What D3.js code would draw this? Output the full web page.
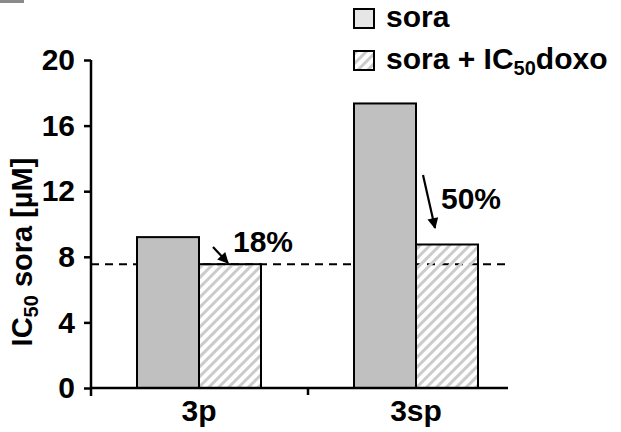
<!DOCTYPE html>
<html>
<head>
<meta charset="utf-8">
<title>IC50 sora</title>
<script src="https://cdn.jsdelivr.net/npm/d3@7"></script>
<style>
body { margin:0; background:#fff; }
text { font-family: "Liberation Sans", Arial, sans-serif; font-weight:bold; }
</style>
</head>
<body>
<svg id="chart" width="621" height="432"></svg>
<script>
var categories = ["3p", "3sp"];
var series = ["sora", "sora + IC50doxo"];
var soraValues = [9.2, 17.35];
var comboValues = [7.55, 8.75];
var yTicks = [0, 4, 8, 12, 16, 20];
var refLevel = 7.55;
var reductions = ["18%", "50%"];

var FS = 30, SUB = 20;
var svg = d3.select("#chart");

// hatch pattern for the combination bars
var defs = svg.append("defs");
defs.append("pattern")
	.attr("id", "hatch")
	.attr("patternUnits", "userSpaceOnUse")
	.attr("width", 7).attr("height", 7)
	.attr("patternTransform", "rotate(45)")
	.append("rect")
	.attr("x", 0).attr("y", 0).attr("width", 3).attr("height", 7)
	.attr("fill", "#cbcbcb");

var x = d3.scaleBand().domain(categories).range([91, 525]).paddingInner(0).paddingOuter(0);
var y = d3.scaleLinear().domain([0, 20]).range([388, 60]);

// stray mark top-left
svg.append("rect").attr("x", 0).attr("y", 0).attr("width", 24).attr("height", 3).attr("fill", "#8a8a8a");

// dashed reference line
svg.append("line")
	.attr("x1", 91).attr("x2", 508)
	.attr("y1", y(refLevel)).attr("y2", y(refLevel))
	.attr("stroke", "#000").attr("stroke-width", 2)
	.attr("stroke-dasharray", "8,6");

var barW = 62;
var groups = svg.selectAll(".grp").data(categories).enter().append("g");

groups.append("rect")
	.attr("x", function(d){ return x(d) + x.bandwidth()/2 - barW - 0.5; })
	.attr("y", function(d, i){ return y(soraValues[i]); })
	.attr("width", barW)
	.attr("height", function(d, i){ return y(0) - y(soraValues[i]); })
	.attr("fill", "#c0c0c0").attr("stroke", "#000").attr("stroke-width", 2);

groups.append("rect")
	.attr("x", function(d){ return x(d) + x.bandwidth()/2 - 0.5; })
	.attr("y", function(d, i){ return y(comboValues[i]); })
	.attr("width", barW)
	.attr("height", function(d, i){ return y(0) - y(comboValues[i]); })
	.attr("fill", "url(#hatch)").attr("stroke", "#000").attr("stroke-width", 2);

// y axis
var yAxis = svg.append("g").attr("transform", "translate(91,0)")
	.call(d3.axisLeft(y).tickValues(yTicks).tickSize(7).tickPadding(9));
yAxis.select(".domain").attr("d", "M0," + y(20) + "V396").attr("stroke-width", 2.5);
yAxis.selectAll(".tick line").attr("stroke-width", 2.5);
yAxis.selectAll(".tick text").attr("font-size", FS).attr("font-family", "Liberation Sans, Arial").attr("font-weight", "bold").attr("fill", "#000");

// x axis
var xAxis = svg.append("g").attr("transform", "translate(0," + y(0) + ")");
xAxis.append("line").attr("x1", 91).attr("x2", 508).attr("y1", 0).attr("y2", 0)
	.attr("stroke", "#000").attr("stroke-width", 2.5);
xAxis.append("line").attr("x1", x(categories[1])).attr("x2", x(categories[1])).attr("y1", 0).attr("y2", 7)
	.attr("stroke", "#000").attr("stroke-width", 2.5);
xAxis.selectAll(".xl").data(categories).enter().append("text")
	.attr("x", function(d){ return x(d) + x.bandwidth()/2 - 0.5; })
	.attr("y", 33)
	.attr("text-anchor", "middle").attr("font-size", FS)
	.text(function(d){ return d; });

// y title
var yt = svg.append("text")
	.attr("transform", "translate(32,252) rotate(-90)")
	.attr("text-anchor", "middle").attr("font-size", 29);
yt.append("tspan").text("IC");
yt.append("tspan").attr("font-size", SUB).attr("dy", 6).text("50");
yt.append("tspan").attr("dy", -6).text(" sora [µM]");

// arrows
defs.append("marker").attr("id", "ah")
	.attr("viewBox", "0 0 10 10").attr("refX", 9).attr("refY", 5)
	.attr("markerWidth", 5.5).attr("markerHeight", 5).attr("orient", "auto")
	.attr("markerUnits", "strokeWidth")
	.append("path").attr("d", "M0,0L10,5L0,10z").attr("fill", "#000");

var arrowData = [
	{ cat: 0, x1: 213, y1: 247, x2: 228, y2: 263, tx: 233, ty: 252 },
	{ cat: 1, x1: 423, y1: 175, x2: 435, y2: 228, tx: 441, ty: 209 }
];
svg.selectAll(".arr").data(arrowData).enter().append("line")
	.attr("x1", function(d){ return d.x1; }).attr("y1", function(d){ return d.y1; })
	.attr("x2", function(d){ return d.x2; }).attr("y2", function(d){ return d.y2; })
	.attr("stroke", "#000").attr("stroke-width", 2.2).attr("marker-end", "url(#ah)");
svg.selectAll(".pct").data(arrowData).enter().append("text")
	.attr("x", function(d){ return d.tx; }).attr("y", function(d){ return d.ty; })
	.attr("font-size", FS)
	.text(function(d){ return reductions[d.cat]; });

// legend
var legend = svg.append("g");
legend.append("rect").attr("x", 354).attr("y", 9).attr("width", 20).attr("height", 19)
	.attr("fill", "#e6e6e6").attr("stroke", "#000").attr("stroke-width", 2);
legend.append("text").attr("x", 386).attr("y", 27).attr("font-size", FS).text(series[0]);
legend.append("rect").attr("x", 354).attr("y", 51).attr("width", 20).attr("height", 19)
	.attr("fill", "url(#hatch)").attr("stroke", "#000").attr("stroke-width", 2);
var lt = legend.append("text").attr("x", 386).attr("y", 69).attr("font-size", FS);
lt.append("tspan").text("sora + IC");
lt.append("tspan").attr("font-size", SUB).attr("dy", 6).text("50");
lt.append("tspan").attr("dy", -6).text("doxo");
</script>
</body>
</html>
